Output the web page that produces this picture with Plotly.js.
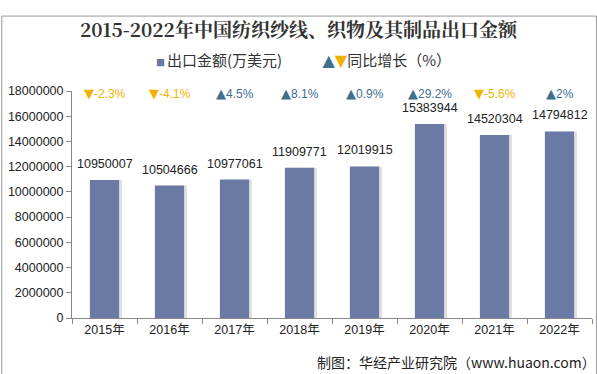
<!DOCTYPE html>
<html><head><meta charset="utf-8">
<script src="https://cdn.plot.ly/plotly-3.0.1.min.js"></script>
<style>html,body{margin:0;padding:0;background:#fff}#c{width:597px;height:374px}</style>
</head><body><div id="c"></div>
<script>
const years = ['2015年','2016年','2017年','2018年','2019年','2020年','2021年','2022年'];
const exportValue = [10950007,10504666,10977061,11909771,12019915,15383944,14520304,14794812];
const growth = [-2.3,-4.1,4.5,8.1,0.9,29.2,-5.6,2];
const yTicks = [0,2000000,4000000,6000000,8000000,10000000,12000000,14000000,16000000,18000000];

const UP = '#3d6f8e', DOWN = '#f0b400', BAR = '#6a7aa4';
const font = 'Liberation Sans, Arial, Noto Sans CJK SC, sans-serif';
const cjk = 'Noto Sans CJK SC, sans-serif';
const tri = 'font-family:DejaVu Sans;font-size:13px';
const triL = 'font-family:DejaVu Sans;font-size:16px';

const shadow = {type:'bar', x:years, y:exportValue, width:0.46, offset:-0.19,
  marker:{color:'rgba(0,0,0,0.12)'}, hoverinfo:'skip', showlegend:false};
const bars = {type:'bar', x:years, y:exportValue, width:0.45, offset:-0.225,
  marker:{color:BAR}, showlegend:false};

const ann = [];
exportValue.forEach((v,i)=>ann.push({x:years[i], y:v, xref:'x', yref:'y', yanchor:'bottom',
  yshift:7, showarrow:false, text:String(v), font:{size:12.5, color:'#222', family:font}}));
growth.forEach((g,i)=>ann.push({x:years[i], y:1, yref:'paper', xref:'x', yanchor:'middle',
  yshift:-2, showarrow:false,
  text:'<span style="'+tri+'">'+(g>=0?'▲':'▼')+'</span>'+g+'%',
  font:{size:12, color:g>=0?UP:DOWN, family:font}}));

ann.push({xref:'paper', yref:'paper', x:0.445, y:1.14, yanchor:'middle', showarrow:false,
  text:'<span style="color:'+BAR+';font-size:9px">■ </span><span style="color:#333">出口金额(万美元)</span>            <span style="color:'+UP+';'+triL+'">▲</span><span style="color:'+DOWN+';'+triL+'">▼</span><span style="color:#333">同比增长（%）</span>',
  font:{size:15, family:cjk}});
ann.push({xref:'paper', yref:'paper', x:1.012, y:-0.195, xanchor:'right', yanchor:'middle', showarrow:false,
  text:'制图：华经产业研究院（www.huaon.com）', font:{size:14, color:'#222', family:cjk}});

const layout = {
  width:597, height:374, paper_bgcolor:'#fff', plot_bgcolor:'#fff',
  margin:{l:72, r:5, t:91, b:56},
  barmode:'overlay',
  title:{text:'<b>2015-2022年中国纺织纱线、织物及其制品出口金额</b>', x:0.5, xanchor:'center', y:0.918, yanchor:'middle',
    font:{size:19, color:'#333', family:'Noto Serif CJK SC, Noto Sans CJK SC, serif'}},
  xaxis:{type:'category', showline:true, linecolor:'#888', linewidth:1, ticks:'outside', tickson:'boundaries',
    ticklen:5, tickcolor:'#888', tickfont:{size:12.5, color:'#222', family:font}, showgrid:false, fixedrange:true},
  yaxis:{range:[0,18000000], tickvals:yTicks, ticktext:yTicks.map(String), showline:true, linecolor:'#888',
    ticks:'outside', ticklen:5, tickcolor:'#888', showgrid:false, zeroline:false,
    tickfont:{size:12.5, color:'#222', family:font}},
  annotations:ann,
  shapes:[{type:'rect', xref:'paper', yref:'paper', x0:-0.135, x1:1.0085, y0:-0.25, y1:1.33,
    line:{color:'#999', width:1}}],
  showlegend:false
};
Plotly.newPlot('c', [shadow, bars], layout, {displayModeBar:false, staticPlot:true});
</script></body></html>
